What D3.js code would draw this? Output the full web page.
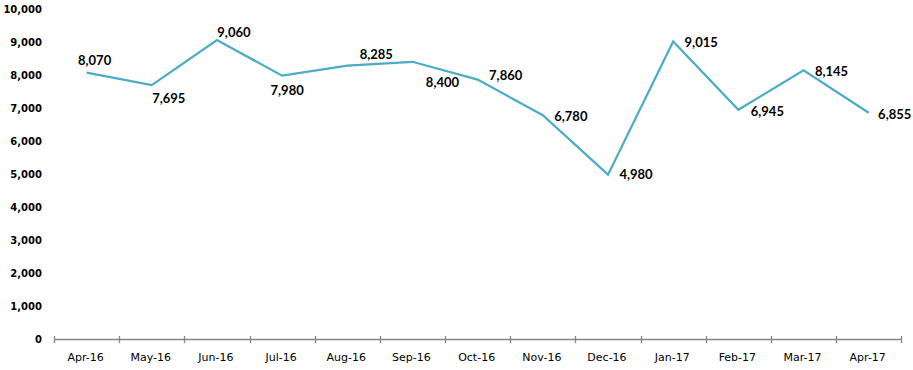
<!DOCTYPE html>
<html><head><meta charset="utf-8">
<script src="https://cdn.jsdelivr.net/npm/d3@7"></script>
<style>html,body{margin:0;padding:0;background:#fff;}</style>
</head><body>
<svg id="chart" width="913" height="370"></svg>
<script>
// ---- data ----
const categories = ["Apr-16","May-16","Jun-16","Jul-16","Aug-16","Sep-16","Oct-16","Nov-16","Dec-16","Jan-17","Feb-17","Mar-17","Apr-17"];
const values = [8070, 7695, 9060, 7980, 8285, 8400, 7860, 6780, 4980, 9015, 6945, 8145, 6855];
const yTicks = [0,1000,2000,3000,4000,5000,6000,7000,8000,9000,10000];
// ---- label placement (layout, not data) ----
const labelOffsets = [[8,-12],[17,13],[17,-8],[5,15],[29,-11],[30,21],[28,-4],[28,1],[28,0],[28,1],[29,2],[28,1.5],[26,2]];

(function () {
const svg = d3.select("#chart");
const mLeft = 54, mRight = 901.3, mTop = 9, mBottom = 339;
const x = d3.scaleBand().domain(categories).range([mLeft, mRight]);
const y = d3.scaleLinear().domain([0, 10000]).range([mBottom, mTop]);
const fmt = d3.format(",");

// y labels
svg.append("g").selectAll("text").data(yTicks).join("text")
  .attr("x", 42).attr("y", d => y(d)).attr("dy", "0.36em")
  .attr("text-anchor", "end")
  .style("font-family", "DejaVu Sans").style("font-weight", "bold").style("font-size", "10px")
  .attr("fill", "#000").text(d => fmt(d));

// x axis line
svg.append("line").attr("x1", mLeft).attr("x2", mRight).attr("y1", mBottom + 0.5).attr("y2", mBottom + 0.5)
  .attr("stroke", "#868686").attr("stroke-width", 1.3);
const tickPos = categories.map(c => x(c)).concat([mRight]);
svg.append("g").selectAll("line").data(tickPos).join("line")
  .attr("x1", d => Math.round(d) + 0.5).attr("x2", d => Math.round(d) + 0.5)
  .attr("y1", mBottom - 3).attr("y2", mBottom + 4)
  .attr("stroke", "#868686").attr("stroke-width", 1.3);

svg.append("g").selectAll("text").data(categories).join("text")
  .attr("x", d => x(d) + x.bandwidth() / 2 - 1).attr("y", 361)
  .attr("text-anchor", "middle")
  .style("font-family", "DejaVu Sans").style("font-size", "11px")
  .attr("fill", "#000").text(d => d);

// line
const line = d3.line().x((d, i) => x(categories[i]) + x.bandwidth() / 2).y(d => y(d));
svg.append("path").datum(values).attr("d", line)
  .attr("fill", "none").attr("stroke", "#4BACC6").attr("stroke-width", 2.2)
  .attr("stroke-linejoin", "miter");

// labels
svg.append("g").selectAll("text").data(values).join("text")
  .attr("x", (d, i) => x(categories[i]) + x.bandwidth() / 2 + labelOffsets[i][0])
  .attr("y", (d, i) => y(d) + labelOffsets[i][1])
  .attr("dy", "0.36em").attr("text-anchor", "middle")
  .style("font-family", "Lato").style("font-weight", "bold").style("font-size", "13px")
  .attr("fill", "#000").text(d => fmt(d));
})();
</script>
</body></html>
